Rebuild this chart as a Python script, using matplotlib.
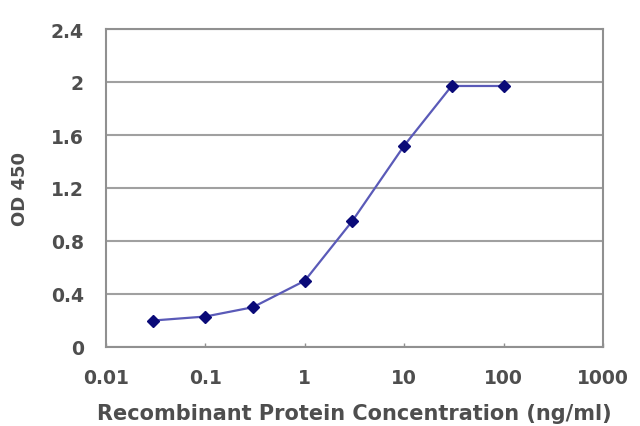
import matplotlib
matplotlib.use("Agg")
import matplotlib.pyplot as plt
from matplotlib.ticker import FixedLocator, FixedFormatter, NullLocator

concentration = [0.03, 0.1, 0.3, 1, 3, 10, 30, 100]
od450 = [0.20, 0.23, 0.30, 0.50, 0.95, 1.52, 1.97, 1.97]
x_ticks = [0.01, 0.1, 1, 10, 100, 1000]
x_tick_labels = ["0.01", "0.1", "1", "10", "100", "1000"]
y_ticks = [0, 0.4, 0.8, 1.2, 1.6, 2, 2.4]
y_tick_labels = ["0", "0.4", "0.8", "1.2", "1.6", "2", "2.4"]

plt.rcParams['font.family'] = ['DejaVu Sans']
plt.rcParams['font.weight'] = 'bold'

fig = plt.figure(figsize=(6.4, 4.27), dpi=100)
ax = fig.add_axes([106/640, 1-348/427, (603-106)/640, (348-30)/427])

ax.set_xscale('log')
ax.set_xlim(0.01, 1000)
ax.set_ylim(0, 2.4)

ax.plot(concentration, od450, color='#5a5ab8', lw=1.6, marker='D', ms=6,
        mfc='#0a0a78', mec='#0a0a78', zorder=3)

ax.xaxis.set_major_locator(FixedLocator(x_ticks))
ax.xaxis.set_major_formatter(FixedFormatter(x_tick_labels))
ax.xaxis.set_minor_locator(NullLocator())
ax.yaxis.set_major_locator(FixedLocator(y_ticks))
ax.yaxis.set_major_formatter(FixedFormatter(y_tick_labels))

ax.grid(axis='y', color='#a0a0a0', lw=1.5)
ax.set_axisbelow(True)
for s in ax.spines.values():
    s.set_color('#909090')
    s.set_linewidth(1.5)

txt = '#4e4e4e'
ax.tick_params(axis='x', direction='in', length=3, color='#909090', width=1,
               labelsize=13.5, labelcolor=txt, pad=15)
ax.tick_params(axis='y', length=0, labelsize=13.5, labelcolor=txt, pad=16)

ax.set_xlabel('Recombinant Protein Concentration (ng/ml)', fontsize=15,
              color=txt, labelpad=12, fontweight='bold')
ax.set_ylabel('OD 450', fontsize=13, color=txt, labelpad=16, fontweight='bold')

fig.savefig('out.png', dpi=100)
